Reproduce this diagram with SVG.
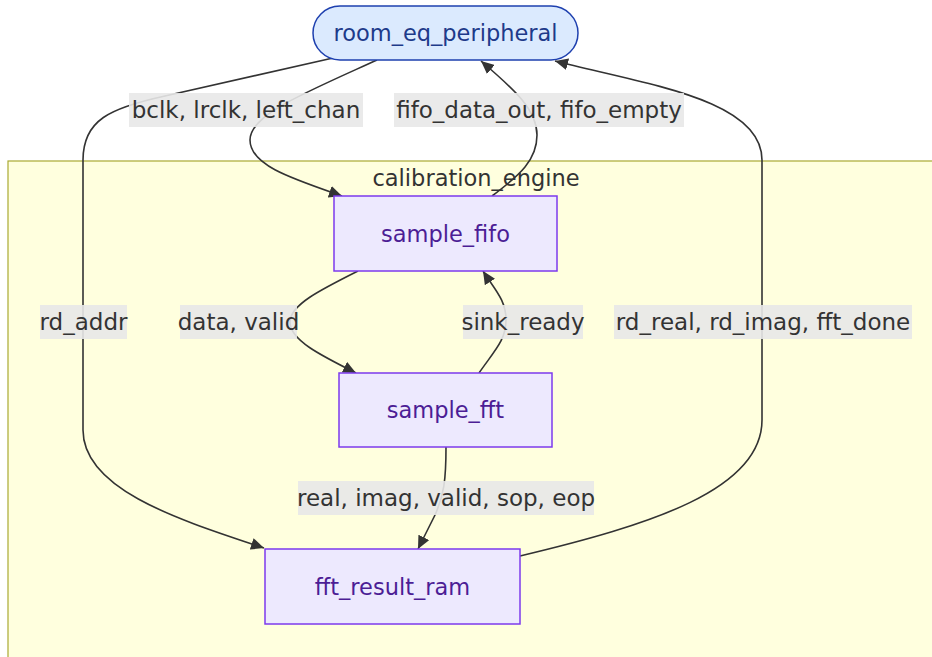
<svg xmlns="http://www.w3.org/2000/svg" width="932" height="657" viewBox="0 0 932 657">
<defs>
<style>
text{font-family:"DejaVu Sans","Noto Sans",sans-serif;font-size:22.5px;text-anchor:middle;dominant-baseline:central}
.edge{fill:none;stroke:#333;stroke-width:1.6}
.lblbg{fill:#e8e8e8;fill-opacity:0.9}
.lbl{fill:#333;font-size:23px}
.box{fill:#ede9fe;stroke:#7c3aed;stroke-width:1.5}
.boxt{fill:#4c1d95}
</style>
<marker id="arr" markerUnits="userSpaceOnUse" markerWidth="14" markerHeight="12" refX="13" refY="6" orient="auto">
<path d="M0,0 L13,6 L0,12 z" fill="#333"/>
</marker>
</defs>
<rect width="932" height="657" fill="#fff"/>
<g id="calibration_engine">
<rect x="8" y="161" width="930" height="500" fill="#ffffde" stroke="#aaaa33" stroke-width="1.2"/>
<text x="476" y="178" fill="#333">calibration_engine</text>
</g>
<g id="connectors">
<path class="edge" marker-end="url(#arr)" d="M333,58 L165,96 C110,108 83,120 83,160 L83,430 C83,490 180,520 264,548"/>
<path class="edge" marker-end="url(#arr)" d="M377,60 C300,95 250,115 250,140 C250,165 290,178 342,196"/>
<path class="edge" marker-end="url(#arr)" d="M492,196 C520,175 537,160 537,135 C537,110 515,90 481,61"/>
<path class="edge" marker-end="url(#arr)" d="M520,556 C650,525 762,490 762,420 L762,160 C762,100 650,85 555,61"/>
<path class="edge" marker-end="url(#arr)" d="M358,271 C320,290 290,305 290,322 C290,340 320,355 356,373"/>
<path class="edge" marker-end="url(#arr)" d="M479,373 C495,350 506,340 506,320 C506,300 495,290 483,271"/>
<path class="edge" marker-end="url(#arr)" d="M446,447 C446,480 444,495 435,515 L418,549"/>
<g id="edge-labels">
<rect class="lblbg" x="129" y="93" width="234" height="34"/>
<text class="lbl" x="246" y="110">bclk, lrclk, left_chan</text>
<rect class="lblbg" x="394" y="93" width="290" height="34"/>
<text class="lbl" x="539" y="110">fifo_data_out, fifo_empty</text>
<rect class="lblbg" x="40" y="305" width="87" height="34"/>
<text class="lbl" x="83.5" y="322">rd_addr</text>
<rect class="lblbg" x="180" y="305" width="117" height="34"/>
<text class="lbl" x="238.5" y="322">data, valid</text>
<rect class="lblbg" x="463" y="305" width="120" height="34"/>
<text class="lbl" x="523" y="322">sink_ready</text>
<rect class="lblbg" x="614" y="305" width="298" height="34"/>
<text class="lbl" x="763" y="322">rd_real, rd_imag, fft_done</text>
<rect class="lblbg" x="298" y="481" width="296" height="34"/>
<text class="lbl" x="446" y="498">real, imag, valid, sop, eop</text>
</g>
</g>
<g id="room_eq_peripheral">
<rect x="313" y="6" width="265" height="54" rx="27" ry="27" fill="#dbeafe" stroke="#1e40af" stroke-width="1.5"/>
<text x="445.5" y="33" fill="#1e3a8a">room_eq_peripheral</text>
</g>
<g id="sample_fifo">
<rect class="box" x="334" y="196" width="223" height="75"/>
<text class="boxt" x="445.5" y="233.5">sample_fifo</text>
</g>
<g id="sample_fft">
<rect class="box" x="339" y="373" width="213" height="74"/>
<text class="boxt" x="445.5" y="410">sample_fft</text>
</g>
<g id="fft_result_ram">
<rect class="box" x="265" y="549" width="255" height="75"/>
<text class="boxt" x="392.5" y="586.5">fft_result_ram</text>
</g>
</svg>
